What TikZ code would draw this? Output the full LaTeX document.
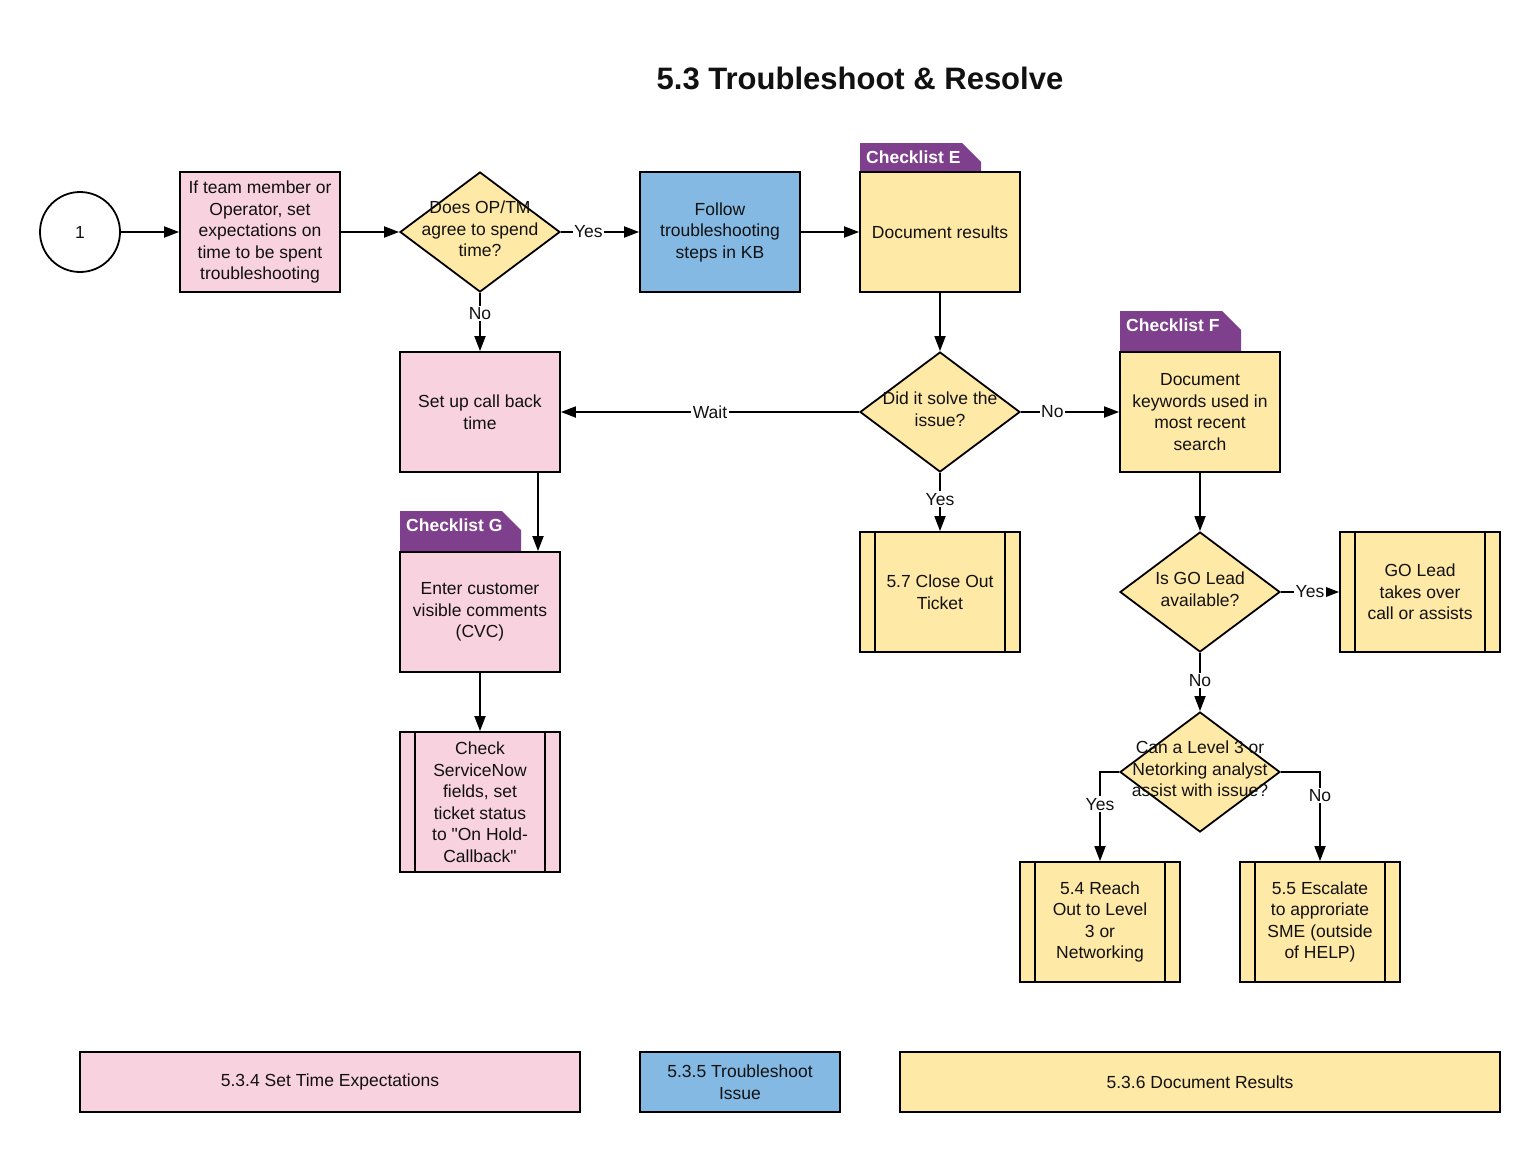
\documentclass[tikz,border=0pt]{standalone}
\usepackage{fontspec}
\setmainfont{Liberation Sans}
\usetikzlibrary{shapes.geometric,arrows.meta}
\definecolor{pinkf}{HTML}{F8D2DE}
\definecolor{yellowf}{HTML}{FFE9A6}
\definecolor{bluef}{HTML}{84B9E4}
\definecolor{purplef}{HTML}{7E3F8C}
\definecolor{ink}{HTML}{111111}
\newcommand{\fs}{\fontsize{17.5}{21.5}\selectfont}
\begin{document}
\begin{tikzpicture}[x=1pt,y=-1pt,
  every node/.style={text=ink},
  box/.style={draw=black, line width=1.8pt, minimum width=160pt, minimum height=120pt, inner sep=0pt, align=center, font=\fs},
  dia/.style={draw=black, diamond, line width=1.8pt, minimum width=160pt, minimum height=120pt, inner sep=0pt, fill=#1},
  dtext/.style={align=center, font=\fs, inner sep=0pt},
  arr/.style={-{Triangle[length=15pt,width=11pt]}, line width=1.8pt},
  lbl/.style={fill=white, inner sep=1.5pt, font=\fs},
  tabtext/.style={text=white, font=\fontsize{17.5}{20}\selectfont\bfseries, anchor=west, inner sep=0pt},
  legend/.style={draw=black, line width=1.8pt, minimum height=60pt, inner sep=0pt, align=center, font=\fs}
]
\useasboundingbox (0,0) rectangle (1540,1152);

% title
\node[font=\fontsize{31}{36}\selectfont\bfseries] (title) at (860,78) {5.3 Troubleshoot \& Resolve};

% start circle
\node[draw=black, circle, line width=1.8pt, minimum size=80pt, inner sep=0pt, font=\fs] (start) at (80,232) {1};

% row 1
\node[box, fill=pinkf] (expect) at (260,232) {If team member or\\Operator, set\\expectations on\\time to be spent\\troubleshooting};
\node[dia=yellowf] (agree) at (480,232) {};
\node[dtext] (agreet) at (480,229) {Does OP/TM\\agree to spend\\time?};
\node[box, fill=bluef] (follow) at (720,232) {Follow\\troubleshooting\\steps in KB};
\node[box, fill=yellowf] (docres) at (940,232) {Document results};

% row 2
\node[box, fill=pinkf] (callback) at (480,412) {Set up call back\\time};
\node[dia=yellowf] (solve) at (940,412) {};
\node[dtext] (solvet) at (940,409) {Did it solve the\\issue?};
\node[box, fill=yellowf] (keywords) at (1200,412) {Document\\keywords used in\\most recent\\search};

% row 3
\node[box, fill=pinkf] (cvc) at (480,612) {Enter customer\\visible comments\\(CVC)};
\node[box, fill=yellowf] (close) at (940,592) {5.7 Close Out\\Ticket};
\node[dia=yellowf] (golead) at (1200,592) {};
\node[dtext] (goleadt) at (1200,589) {Is GO Lead\\available?};
\node[box, fill=yellowf] (takes) at (1420,592) {GO Lead\\takes over\\call or assists};

% row 4
\node[box, fill=pinkf, minimum height=140pt] (snow) at (480,802) {Check\\ServiceNow\\fields, set\\ticket status\\to \textquotedbl On Hold-\\Callback\textquotedbl};
\node[dia=yellowf] (level3) at (1200,772) {};
\node[dtext] (level3t) at (1200,769) {Can a Level 3 or\\Netorking analyst\\assist with issue?};

% row 5
\node[box, fill=yellowf] (reach) at (1100,922) {5.4 Reach\\Out to Level\\3 or\\Networking};
\node[box, fill=yellowf] (escalate) at (1320,922) {5.5 Escalate\\to approriate\\SME (outside\\of HELP)};

% predefined-process side bars
\foreach \n in {close,takes,snow,reach,escalate}{
  \draw[line width=1.8pt] ([xshift=16pt]\n.north west) -- ([xshift=16pt]\n.south west);
  \draw[line width=1.8pt] ([xshift=-16pt]\n.north east) -- ([xshift=-16pt]\n.south east);
}

% checklist tabs
\fill[purplef] (860,143) -- (962,143) -- (981,162) -- (981,171) -- (860,171) -- cycle;
\node[tabtext] (tabE) at (866,157) {Checklist E};
\fill[purplef] (1120,311) -- (1222,311) -- (1241,330) -- (1241,351) -- (1120,351) -- cycle;
\node[tabtext] (tabF) at (1126,325) {Checklist F};
\fill[purplef] (400,511) -- (502,511) -- (521,530) -- (521,551) -- (400,551) -- cycle;
\node[tabtext] (tabG) at (406,525) {Checklist G};

% connectors
\draw[arr] (start.east) -- (expect.west);
\draw[arr] (expect.east) -- (agree.west);
\draw[arr] (agree.east) -- node[lbl, pos=0.35] {Yes} (follow.west);
\draw[arr] (follow.east) -- (docres.west);
\draw[arr] (agree.south) -- node[lbl, pos=0.35] {No} (callback.north);
\draw[arr] (docres.south) -- (solve.north);
\draw[arr] (solve.west) -- node[lbl, pos=0.5] {Wait} (callback.east);
\draw[arr] (solve.east) -- node[lbl, pos=0.32] {No} (keywords.west);
\draw[arr] (solve.south) -- node[lbl, pos=0.45] {Yes} (close.north);
\draw[arr] ([xshift=58pt]callback.south) -- ([xshift=58pt]cvc.north);
\draw[arr] (cvc.south) -- (snow.north);
\draw[arr] (keywords.south) -- (golead.north);
\draw[arr] (golead.east) -- node[lbl, pos=0.5] {Yes} (takes.west);
\draw[arr] (golead.south) -- node[lbl, pos=0.47] {No} (level3.north);
\draw[arr] (level3.west) -| node[lbl, pos=0.68] {Yes} (reach.north);
\draw[arr] (level3.east) -| node[lbl, pos=0.63] {No} (escalate.north);

% legend
\node[legend, fill=pinkf, minimum width=500pt] (legA) at (330,1082) {5.3.4 Set Time Expectations};
\node[legend, fill=bluef, minimum width=200pt] (legB) at (740,1082) {5.3.5 Troubleshoot\\Issue};
\node[legend, fill=yellowf, minimum width=600pt] (legC) at (1200,1082) {5.3.6 Document Results};
\end{tikzpicture}
\end{document}
